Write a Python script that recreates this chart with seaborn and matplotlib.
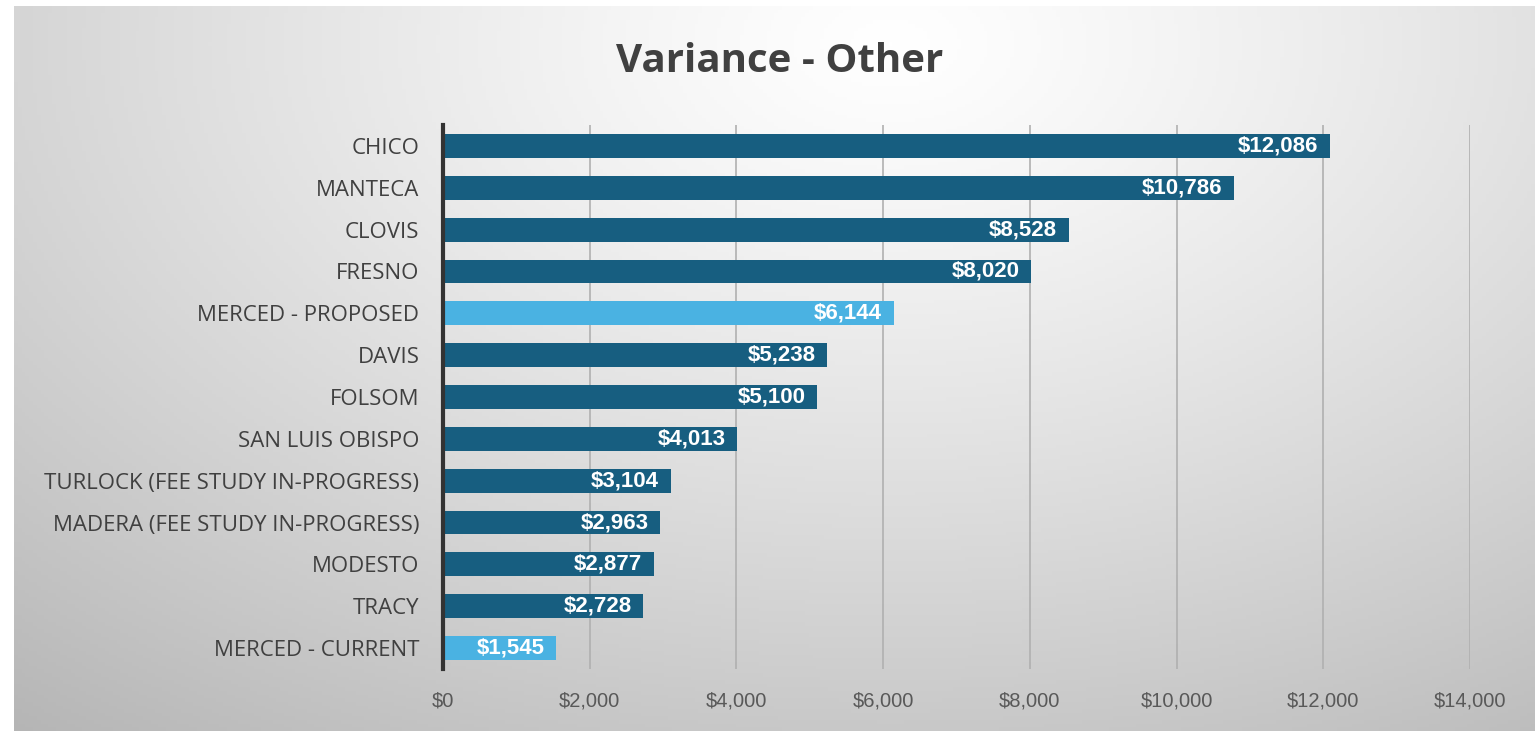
import numpy as np
import pandas as pd
import seaborn as sns
import matplotlib.pyplot as plt
from matplotlib.ticker import FuncFormatter

# data
cities = ["CHICO", "MANTECA", "CLOVIS", "FRESNO", "MERCED - PROPOSED", "DAVIS",
          "FOLSOM", "SAN LUIS OBISPO", "TURLOCK (FEE STUDY IN-PROGRESS)",
          "MADERA (FEE STUDY IN-PROGRESS)", "MODESTO", "TRACY", "MERCED - CURRENT"]
variance = [12086, 10786, 8528, 8020, 6144, 5238, 5100, 4013, 3104, 2963, 2877, 2728, 1545]
x_ticks = [0, 2000, 4000, 6000, 8000, 10000, 12000, 14000]

dark = "#175e80"
light = "#4ab2e2"
colors = [light if c.startswith("MERCED") else dark for c in cities]

df = pd.DataFrame({"city": cities, "variance": variance})

sns.set_style("white")
plt.rcParams["font.family"] = ["Open Sans", "DejaVu Sans"]

fig = plt.figure(figsize=(15.35, 7.31), dpi=100)
fig.patch.set_facecolor("white")

# gradient background (radial, bright at top middle)
bg = fig.add_axes([14 / 1535, 0, 1 - 14 / 1535, 1 - 6 / 731], zorder=-5)
yy, xx = np.mgrid[0:200, 0:400]
d = np.sqrt(((xx - 230) / 380) ** 2 + ((yy - 10) / 250) ** 2)
shade = 1.0 - 0.3 * np.clip(d, 0, 1) ** 1.2
bg.imshow(np.dstack([shade] * 3), aspect="auto", extent=[0, 1, 0, 1], origin="upper")
bg.axis("off")

ax = fig.add_axes([443 / 1535, 1 - 669 / 731, (1470 - 443) / 1535, (669 - 125) / 731])
ax.patch.set_alpha(0)
sns.barplot(data=df, x="variance", y="city", hue="city", palette=colors, saturation=1,
            orient="h", width=0.57, linewidth=0, legend=False, ax=ax, zorder=3)

ax.set_xlim(0, 14000)
ax.set_xticks(x_ticks)
ax.xaxis.set_major_formatter(FuncFormatter(lambda v, p: f"${v:,.0f}"))
ax.grid(axis="x", color="#b0b0b0", linewidth=1.2, zorder=0)
ax.set_axisbelow(True)
for s in ["top", "right", "bottom"]:
    ax.spines[s].set_visible(False)
ax.spines["left"].set_color("#333333")
ax.spines["left"].set_linewidth(3)
ax.spines["left"].set_zorder(5)
ax.tick_params(axis="x", length=0, pad=16, labelsize=14.5, labelcolor="#595959")
ax.tick_params(axis="y", length=0, pad=17, labelsize=16, labelcolor="#404040")
for lab in ax.get_xticklabels():
    lab.set_fontfamily("Liberation Sans")
for lab in ax.get_yticklabels():
    lab.set_fontweight("medium")
ax.set_xlabel("")
ax.set_ylabel("")

# value labels inside bar ends
for i, v in enumerate(variance):
    ax.text(v - 160, i, f"${v:,}", ha="right", va="center", color="white",
            fontsize=16, fontweight="bold", family=["Liberation Sans Narrow", "Liberation Sans"],
            zorder=6)

fig.text(780 / 1535, 1 - 62 / 731, "Variance - Other", ha="center", va="center",
         fontsize=29, fontweight="bold", color="#404040")

fig.savefig("out.png", dpi=100)
